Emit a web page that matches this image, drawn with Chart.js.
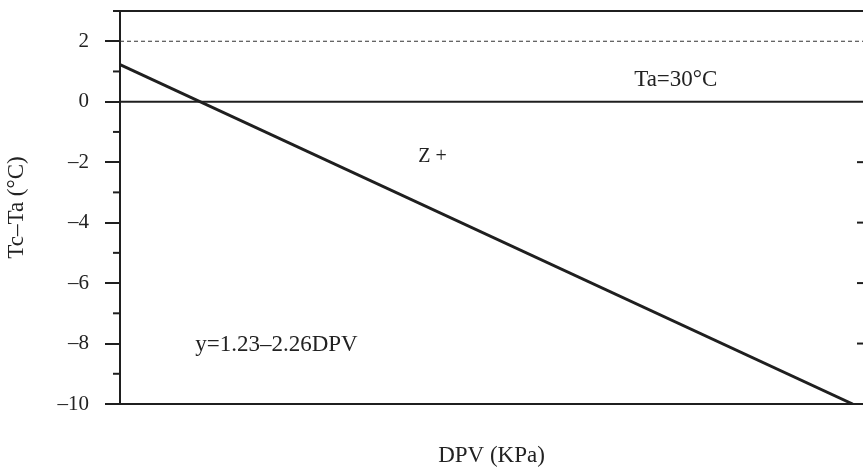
<!DOCTYPE html>
<html>
<head>
<meta charset="utf-8">
<script src="https://cdn.jsdelivr.net/npm/chart.js@4/dist/chart.umd.min.js"></script>
<style>
  html, body { margin: 0; padding: 0; background: #fff; }
  #wrap { width: 863px; height: 467px; }
</style>
</head>
<body>
<div id="wrap"><canvas id="chart" width="863" height="467"></canvas></div>
<script>
// fitted line Tc-Ta vs DPV
const dpv = [0, 4.97];
const tcTa = [1.23, -10];

// reference lines across the plot
const refX = [0, 5.04];
const taLine = [2, 2];
const zeroLine = [0, 0];

// axis range
const yMin = -10, yMax = 3;
const xMin = 0, xMax = 5.04;

// notes written on the plot
const notes = ["Ta=30°C", "Z +", "y=1.23–2.26DPV"];
const noteX = [3.77, 2.12, 0.51];
const noteY = [0.72, -1.81, -8.06];
const noteAlign = ["center", "center", "left"];

const INK = "#1f1f1f";
const SERIF = "'Liberation Serif', 'DejaVu Serif', serif";

function pts(xs, ys) {
  return xs.map((x, i) => ({ x: x, y: ys[i] }));
}

const extras = {
  id: "extras",
  afterDatasetsDraw(chart) {
    const ctx = chart.ctx;
    const y = chart.scales.y;
    const x = chart.scales.x;
    const area = chart.chartArea;
    ctx.save();
    ctx.strokeStyle = INK;
    ctx.lineWidth = 2;
    // minor ticks on the left, short ticks on the right edge
    y.ticks.forEach(t => {
      const py = y.getPixelForValue(t.value);
      if (Math.abs(t.value) % 2 === 1) {
        ctx.beginPath();
        ctx.moveTo(area.left - 7, py);
        ctx.lineTo(area.left, py);
        ctx.stroke();
      } else if (t.value > yMin && t.value < 0) {
        ctx.beginPath();
        ctx.moveTo(area.right - 6, py);
        ctx.lineTo(area.right, py);
        ctx.stroke();
      }
    });
    // notes
    ctx.fillStyle = "#222";
    ctx.textBaseline = "middle";
    notes.forEach((n, i) => {
      ctx.textAlign = noteAlign[i];
      ctx.font = (i === 1 ? "20px " : "23px ") + SERIF;
      ctx.fillText(n, x.getPixelForValue(noteX[i]), y.getPixelForValue(noteY[i]));
    });
    ctx.restore();
  }
};

new Chart(document.getElementById("chart"), {
  type: "scatter",
  data: {
    datasets: [
      {
        data: pts(dpv, tcTa),
        showLine: true,
        borderColor: INK,
        borderWidth: 3,
        pointRadius: 0
      },
      {
        data: pts(refX, taLine),
        showLine: true,
        borderColor: "#333",
        borderWidth: 1.2,
        borderDash: [4, 3],
        pointRadius: 0
      },
      {
        data: pts(refX, zeroLine),
        showLine: true,
        borderColor: INK,
        borderWidth: 2,
        pointRadius: 0
      }
    ]
  },
  options: {
    responsive: false,
    animation: false,
    devicePixelRatio: 1,
    layout: { padding: { top: 11, right: 0, bottom: 0, left: 0 } },
    plugins: {
      legend: { display: false },
      tooltip: { enabled: false }
    },
    scales: {
      x: {
        type: "linear",
        min: xMin,
        max: xMax,
        grid: { display: false },
        border: { display: true, color: INK, width: 2 },
        ticks: { display: false },
        title: {
          display: true,
          text: "DPV (KPa)",
          color: "#222",
          font: { family: SERIF, size: 23, lineHeight: 1 },
          padding: { top: 0, bottom: 0 }
        },
        afterFit(scale) { scale.height = 63; }
      },
      y: {
        min: yMin,
        max: yMax,
        ticks: {
          stepSize: 1,
          padding: 16,
          color: "#222",
          font: { family: SERIF, size: 21, lineHeight: 1 },
          callback: v => (v % 2 === 0 ? String(v).replace("-", "–") : "")
        },
        grid: {
          drawOnChartArea: true,
          drawTicks: true,
          tickLength: 15,
          lineWidth: 2,
          color: c => (c.tick && c.tick.value === yMax ? INK : "rgba(0,0,0,0)"),
          tickColor: c => (c.tick && c.tick.value % 2 === 0 ? INK : "rgba(0,0,0,0)"),
          tickWidth: 2
        },
        border: { display: true, color: INK, width: 2 },
        title: {
          display: true,
          text: "Tc–Ta (°C)",
          color: "#222",
          font: { family: SERIF, size: 23, lineHeight: 1 },
          padding: { top: 5, bottom: 0 }
        },
        afterFit(scale) {
          scale.width = 120;
          scale.paddingTop = 0;
          scale.paddingBottom = 0;
        }
      }
    }
  },
  plugins: [extras]
});
</script>
</body>
</html>
